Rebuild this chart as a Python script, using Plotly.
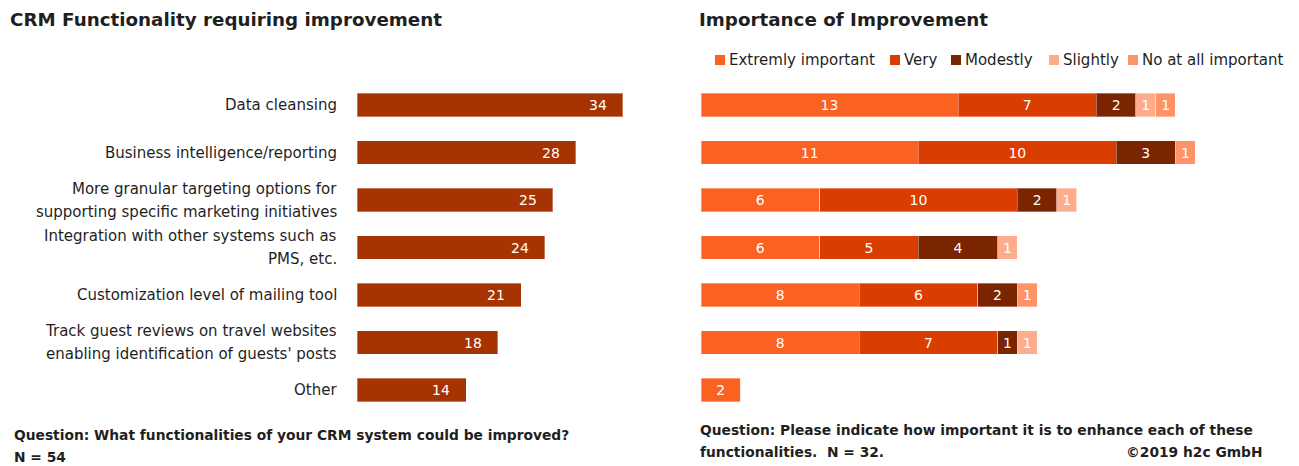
import plotly.graph_objects as go

# ---------------- data ----------------
categories = [
    "Data cleansing",
    "Business intelligence/reporting",
    "More granular targeting options for<br>supporting specific marketing initiatives",
    "Integration with other systems such as<br>PMS, etc.",
    "Customization level of mailing tool",
    "Track guest reviews on travel websites<br>enabling identification of guests' posts",
    "Other",
]
mentions = [34, 28, 25, 24, 21, 18, 14]

series_names = ["Extremly important", "Very", "Modestly", "Slightly", "No at all important"]
extremely = [13, 11, 6, 6, 8, 8, 2]
very = [7, 10, 10, 5, 6, 7, 0]
modestly = [2, 3, 2, 4, 2, 1, 0]
slightly = [1, 0, 1, 1, 0, 1, 0]
not_at_all = [1, 1, 0, 0, 1, 0, 0]
series_values = [extremely, very, modestly, slightly, not_at_all]
series_colors = ["#FB6121", "#DA3D00", "#7A2400", "#FDAC8C", "#FD9367"]

left_color = "#A63302"
FONT = "DejaVu Sans"
TXT = "#1f1f1f"
W, H = 1299, 466

ids = list(range(len(categories)))

fig = go.Figure()

# left chart
fig.add_trace(go.Bar(
    y=ids, x=mentions, orientation="h", xaxis="x", yaxis="y",
    marker=dict(color=left_color, line=dict(color="rgba(255,255,255,0.35)", width=1)),
    width=0.5, showlegend=False, hoverinfo="x",
))

# right chart stacked
for name, vals, col in zip(series_names, series_values, series_colors):
    fig.add_trace(go.Bar(
        y=ids, x=vals, orientation="h", xaxis="x2", yaxis="y2", name=name,
        marker=dict(color=col, line=dict(color="rgba(255,255,255,0.35)", width=1)),
        width=0.5, showlegend=False,
        text=[str(v) if v else "" for v in vals],
        textposition="inside", insidetextanchor="middle",
        textfont=dict(color="white", size=14, family=FONT),
        textangle=0, constraintext="none",
    ))

annotations = []
shapes = []
# value labels on left bars
for i, v in enumerate(mentions):
    annotations.append(dict(
        x=v, y=i, xref="x", yref="y", text=str(v), showarrow=False,
        xanchor="center", xshift=-25, font=dict(color="white", size=14, family=FONT),
    ))
# category labels, lines centred on each other
for i, cat in enumerate(categories):
    lines = cat.split("<br>")
    n = len(lines)
    for j, line in enumerate(lines):
        annotations.append(dict(
            x=339 / W, y=i, xref="paper", yref="y", text=line, showarrow=False,
            xanchor="right", yshift=(n - 1) * 11.5 - j * 23,
            font=dict(color=TXT, size=15, family=FONT),
        ))

# legend (manual, compact like the reference)
legend_x = [715, 890, 951, 1049, 1128]
for name, col, lx in zip(series_names, series_colors, legend_x):
    shapes.append(dict(type="rect", xref="paper", yref="paper",
                       x0=lx / W, x1=(lx + 10) / W, y0=1 - 65 / H, y1=1 - 55 / H,
                       fillcolor=col, line=dict(width=0)))
    annotations.append(dict(x=(lx + 12) / W, y=1 - 60 / H, xref="paper", yref="paper",
                            xanchor="left", yanchor="middle", text=name, showarrow=False,
                            font=dict(size=15, color=TXT, family=FONT)))


def note(x, y, text, anchor="left", size=13.8):
    return dict(x=x / W, y=1 - y / H, xref="paper", yref="paper", xanchor=anchor,
                yanchor="middle", text=text, showarrow=False,
                font=dict(size=size, color=TXT, family=FONT))


annotations += [
    note(8, 20, "<b>CRM Functionality requiring improvement</b>", size=18.3),
    note(697, 20, "<b>Importance of Improvement</b>", size=18.3),
    note(12, 435, "<b>Question: What functionalities of your CRM system could be improved?</b>"),
    note(12, 457, "<b>N = 54</b>"),
    note(698, 430, "<b>Question: Please indicate how important it is to enhance each of these</b>"),
    note(698, 452, "<b>functionalities.  N = 32.</b>"),
    note(1265, 452, "<b>©2019 h2c GmbH</b>", anchor="right"),
]

ydom = [1 - 413.75 / H, 1 - 81.25 / H]
fig.update_layout(
    width=W, height=H,
    margin=dict(l=0, r=0, t=0, b=0),
    paper_bgcolor="white", plot_bgcolor="white",
    barmode="stack",
    showlegend=False,
    font=dict(family=FONT, color=TXT),
    xaxis=dict(domain=[357 / W, (357 + 7.82 * 40) / W], range=[0, 40], visible=False),
    yaxis=dict(domain=ydom, range=[6.5, -0.5], visible=False),
    xaxis2=dict(domain=[701 / W, (701 + 19.77 * 29.5) / W], range=[0, 29.5],
                visible=False, anchor="y2"),
    yaxis2=dict(domain=ydom, range=[6.5, -0.5], visible=False, anchor="x2"),
    annotations=annotations,
    shapes=shapes,
)

fig.write_html("out.html", config={"displayModeBar": False},
               post_script="document.body.style.margin='0';")
